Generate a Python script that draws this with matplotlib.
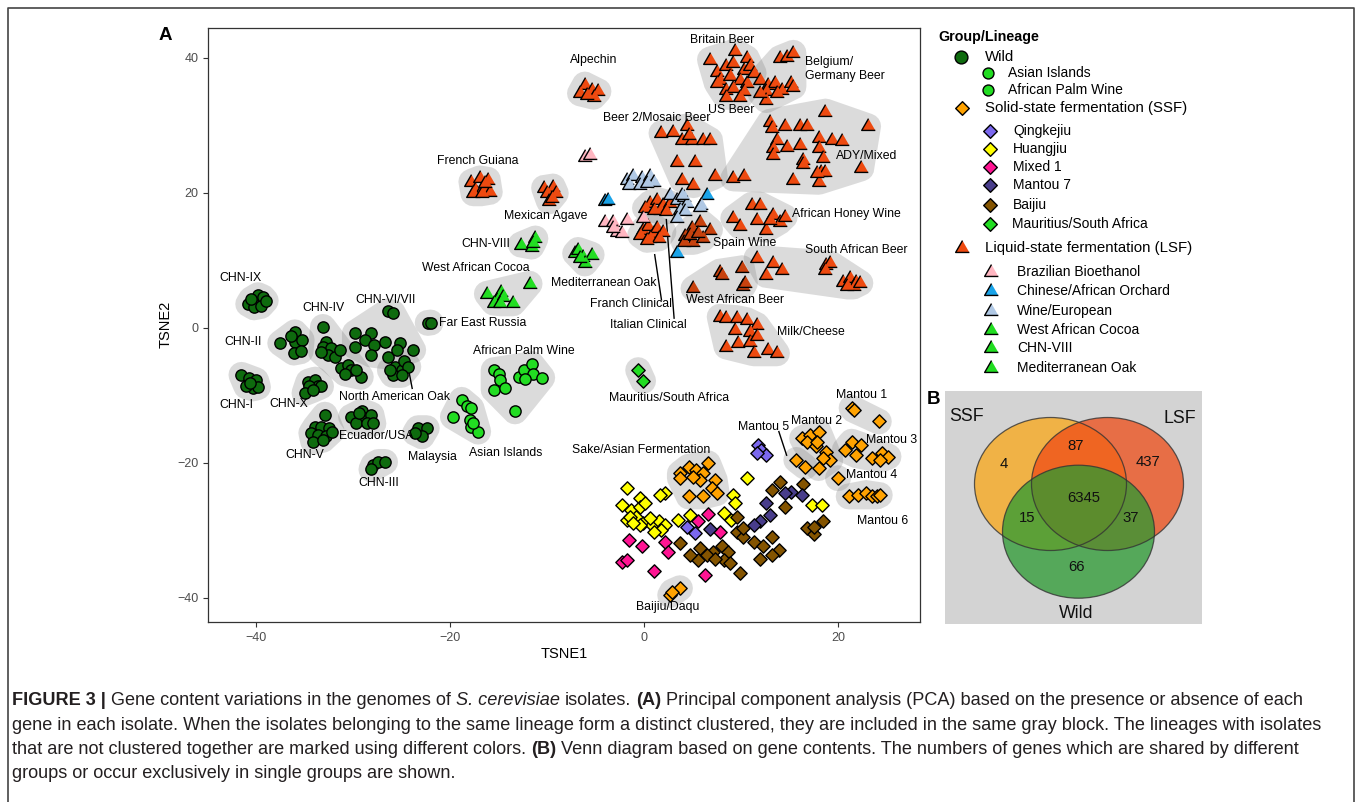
import numpy as np
import matplotlib
matplotlib.use('Agg')
import matplotlib.pyplot as plt
from matplotlib.patches import Polygon, Ellipse
from matplotlib import font_manager

# ----------------------------- DATA (TSNE coordinates) -----------------------------
# Wild
chn_ix_x = [-40.8, -39.8, -39.3, -40.2, -39.5, -40.5, -39.0]
chn_ix_y = [3.5, 4.8, 4.5, 3.0, 3.2, 4.2, 4.0]
chn_ii_x = [-37.5, -36.0, -36.0, -35.3, -36.1, -35.4, -36.4]
chn_ii_y = [-2.3, -0.7, -2.2, -1.8, -3.7, -3.5, -1.2]
chn_i_x = [-41.5, -40.7, -40.0, -40.3, -41.0, -39.8, -40.6]
chn_i_y = [-7.0, -7.5, -7.8, -9.0, -8.7, -8.8, -8.2]
chn_iv_x = [-33.1, -32.8, -33.1, -32.3, -32.6, -31.9, -31.3, -31.2, -30.5, -30.2, -29.2, -30.8, -29.7, -33.3]
chn_iv_y = [0.1, -2.1, -2.8, -3.0, -4.0, -4.3, -3.3, -6.0, -5.5, -6.3, -7.3, -6.8, -6.3, -3.6]
chn_vi_x = [-26.4, -25.9, -29.8, -28.1, -28.8, -27.8, -26.7, -29.8, -28.1, -26.4, -25.2, -25.5, -23.8]
chn_vi_y = [2.4, 2.2, -0.8, -0.8, -1.8, -2.6, -2.1, -2.8, -4.0, -4.3, -2.3, -3.3, -3.3]
na_oak_x = [-25.7, -25.0, -24.7, -24.3, -25.9, -25.0, -26.2]
na_oak_y = [-5.8, -6.3, -5.0, -5.8, -7.0, -7.0, -6.3]
far_east_x = [-22.3, -22.0]
far_east_y = [0.7, 0.75]
chn_x_x = [-34.6, -33.9, -33.6, -34.5, -35.0, -33.3, -34.1]
chn_x_y = [-8.0, -7.7, -8.7, -8.7, -9.7, -8.7, -9.2]
chn_v_x = [-32.9, -33.9, -33.3, -32.5, -34.3, -33.6, -32.8, -34.1, -33.1, -32.2]
chn_v_y = [-12.9, -14.7, -14.7, -14.9, -15.6, -15.9, -16.1, -16.9, -16.6, -15.4]
ecuador_x = [-30.2, -29.1, -28.8, -28.1, -29.7, -28.6, -29.4, -27.9]
ecuador_y = [-13.2, -12.4, -13.4, -12.9, -14.2, -14.2, -12.7, -14.2]
malaysia_x = [-23.3, -22.4, -22.9, -23.6]
malaysia_y = [-14.9, -14.9, -16.1, -15.6]
chn_iii_x = [-27.9, -27.4, -26.7, -28.1]
chn_iii_y = [-20.3, -19.9, -19.9, -21.0]
asian_isl_x = [-18.8, -18.3, -17.8, -19.7, -17.9, -17.8, -17.1, -17.6]
asian_isl_y = [-10.7, -11.6, -11.9, -13.2, -13.7, -14.7, -15.4, -14.2]
palm_wine_x = [-15.5, -14.9, -14.8, -15.5, -14.3, -13.3, -12.9, -12.4, -11.6, -11.4, -10.5, -12.3]
palm_wine_y = [-6.3, -6.8, -7.7, -9.2, -9.0, -12.4, -7.3, -6.3, -5.4, -6.8, -7.4, -7.6]
# green triangles / diamonds
wa_cocoa_x = [-16.2, -14.7, -15.2, -14.5, -13.5, -11.8, -15.5, -14.8]
wa_cocoa_y = [5.0, 5.3, 4.1, 4.6, 3.6, 6.5, 3.7, 3.6]
chn_viii_x = [-12.7, -11.6, -11.2, -11.4]
chn_viii_y = [12.3, 12.0, 13.2, 12.5]
med_oak_x = [-7.1, -6.8, -6.3, -5.4, -6.1, -6.6]
med_oak_y = [11.0, 11.5, 10.5, 10.8, 9.5, 10.3]
mauritius_x = [-0.6, -0.1]
mauritius_y = [-6.3, -7.9]
# LSF
fr_guiana_x = [-17.8, -16.9, -16.1, -17.4, -16.6, -15.9, -17.6, -16.7, -16.4]
fr_guiana_y = [21.6, 22.1, 21.9, 20.4, 20.7, 20.1, 19.9, 19.9, 21.4]
mex_agave_x = [-10.3, -9.4, -10.0, -9.1, -9.8, -9.5]
mex_agave_y = [20.7, 20.9, 19.9, 19.9, 18.7, 19.2]
alpechin_x = [-6.1, -5.4, -4.7, -6.6, -5.2, -5.9]
alpechin_y = [36.0, 35.2, 35.0, 34.7, 34.2, 34.5]
britain_x = [6.8, 9.4, 10.6, 7.5, 8.5, 9.2, 10.3, 10.9, 7.8, 8.9, 9.9, 10.6, 7.5, 8.5, 9.2, 10.3, 8.4, 9.9, 11.3]
britain_y = [39.7, 40.9, 39.9, 37.9, 38.7, 39.2, 38.2, 38.7, 36.7, 37.2, 36.7, 36.2, 36.2, 35.2, 35.5, 35.0, 34.2, 34.2, 37.7]
belgium_x = [14.0, 14.7, 15.4, 12.0, 12.8, 13.5, 12.6, 14.2, 15.1, 15.4, 12.6, 13.7, 12.0]
belgium_y = [39.9, 40.1, 40.7, 36.7, 36.0, 36.2, 35.0, 35.2, 36.2, 35.7, 33.7, 34.7, 34.7]
beer2_x = [1.8, 3.0, 4.4, 3.9, 4.9, 6.1, 6.8, 3.4, 5.3, 3.9, 5.1, 7.3, 4.6]
beer2_y = [28.8, 29.0, 29.8, 27.8, 27.8, 27.8, 27.8, 24.6, 24.6, 21.9, 21.1, 22.4, 28.5]
ady_x = [18.7, 13.0, 13.2, 14.5, 16.1, 16.8, 23.1, 13.7, 16.1, 18.0, 19.4, 20.4, 13.3, 14.7, 13.3,
         16.4, 18.0, 18.5, 18.2, 18.7, 18.0, 15.4, 22.4, 16.4, 17.8, 9.2, 10.3]
ady_y = [32.0, 30.5, 29.5, 29.8, 29.8, 29.8, 29.8, 27.8, 27.1, 28.1, 27.8, 27.6, 26.6, 26.8, 25.6,
         24.8, 26.6, 25.1, 23.1, 23.1, 21.6, 21.9, 23.6, 24.3, 22.9, 22.1, 22.4]
clin_up_x = [0.6, 1.3, 2.0, 2.7, 1.6, 2.3, 0.1, 1.0]
clin_up_y = [18.4, 18.9, 18.2, 18.4, 17.4, 17.2, 17.7, 17.4]
clin_lo_x = [-0.1, 0.4, 1.0, 1.3, 2.0, 0.6, 1.5, -0.4, 0.3]
clin_lo_y = [14.5, 15.0, 14.0, 14.7, 14.2, 13.2, 13.2, 13.7, 13.0]
spain_x = [5.8, 6.8, 4.9, 4.2, 5.1, 6.1, 4.1, 4.7, 5.6]
spain_y = [15.7, 14.5, 14.7, 13.5, 12.7, 13.2, 12.7, 13.7, 14.0]
honey_x = [11.1, 12.0, 9.2, 9.9, 11.6, 13.3, 14.0, 14.5, 12.6, 13.0]
honey_y = [18.2, 18.2, 16.2, 15.0, 16.0, 16.7, 15.7, 16.4, 14.5, 16.0]
sa_beer_x = [11.6, 13.3, 14.2, 12.6, 18.8, 19.2, 18.7, 20.5, 21.2, 21.9, 21.6, 20.9, 22.3]
sa_beer_y = [10.3, 9.5, 8.5, 7.8, 9.3, 9.5, 8.5, 6.8, 7.3, 6.8, 6.1, 6.1, 6.6]
wa_beer_x = [7.8, 8.0, 10.1, 10.2, 10.4, 5.1]
wa_beer_y = [8.3, 7.8, 8.8, 6.1, 6.6, 5.8]
milk_x = [7.8, 8.5, 9.6, 10.6, 11.6, 9.4, 10.9, 8.5, 9.7, 10.9, 11.3, 12.8, 13.7, 11.6]
milk_y = [1.6, 1.4, 1.4, 1.1, 0.4, -0.3, -0.6, -2.8, -2.3, -2.1, -3.8, -3.3, -3.8, -1.3]
brazil_x = [-6.1, -5.6, -4.0, -3.2, -1.8, -2.8, -2.3, -3.2, -0.1]
brazil_y = [25.3, 25.6, 15.7, 15.7, 16.0, 14.2, 14.0, 14.7, 16.2]
orchard_x = [-4.0, -3.7, 6.5, 3.4]
orchard_y = [18.7, 18.9, 19.7, 11.0]
wine_eu_x = [-1.8, -1.1, -0.2, 0.6, 1.0, -1.6, -0.4, 0.3, 2.7, 3.4, 4.1, 4.4, 5.9, 3.7, 4.2, 3.4, 3.9, 5.8]
wine_eu_y = [21.9, 22.4, 22.1, 22.4, 21.6, 21.1, 21.1, 21.4, 19.7, 18.9, 19.4, 18.4, 18.2, 17.4, 17.2, 16.2, 19.7, 17.9]
# SSF
mantou1_x = [21.4, 21.6, 24.2]
mantou1_y = [-11.9, -12.2, -13.9]
mantou2_x = [16.3, 17.1, 18.0, 16.8, 17.7, 18.8, 19.2, 18.4, 18.0, 17.8]
mantou2_y = [-16.4, -15.9, -15.4, -16.9, -17.6, -18.4, -19.6, -19.3, -20.8, -16.9]
mantou3_x = [20.7, 21.4, 22.4, 21.9, 23.5, 24.5, 25.2, 24.3]
mantou3_y = [-18.1, -16.9, -17.4, -18.9, -19.3, -18.6, -19.1, -19.6]
mantou4_x = [20.0]
mantou4_y = [-22.3]
mantou5_x = [15.7, 16.6]
mantou5_y = [-19.6, -20.6]
mantou6_x = [21.1, 22.1, 22.9, 23.5, 24.0, 24.3]
mantou6_y = [-25.0, -24.8, -24.5, -25.0, -25.0, -24.8]
sake_x = [3.7, 4.6, 5.4, 6.1, 6.6, 7.3, 3.7, 5.8, 7.0, 6.1, 4.6, 7.5, 5.1]
sake_y = [-21.6, -20.6, -21.1, -21.6, -20.1, -22.6, -22.3, -22.6, -23.8, -25.0, -25.0, -24.5, -22.1]
daqu_x = [2.7, 3.7, 2.9]
daqu_y = [-39.6, -38.6, -39.1]
qingkejiu_x = [11.8, 12.1, 12.6, 11.6, 4.4, 5.3]
qingkejiu_y = [-17.4, -18.1, -18.9, -18.6, -29.5, -30.4]
mantou7_x = [6.8, 12.6, 13.0, 12.0, 11.3, 15.1, 16.3, 14.5]
mantou7_y = [-29.9, -26.0, -27.7, -28.7, -29.2, -24.3, -24.8, -24.5]
huangjiu_x = [-1.8, -0.4, -2.3, -1.3, -0.4, -1.8, -0.8, -0.1, 0.8, 1.5, 2.2, 1.8, 1.0, -0.4, -1.4,
              0.1, 2.2, 1.6, 3.5, 4.7, 8.2, 9.0, 9.2, 9.4, 10.6, 17.3, 18.3, -1.1, 0.6]
huangjiu_y = [-23.8, -25.3, -26.3, -27.0, -26.5, -28.5, -28.0, -29.0, -29.2, -28.7, -29.2, -30.0, -30.2, -29.2, -28.0,
              -26.0, -24.5, -24.8, -28.5, -27.7, -27.5, -28.5, -24.8, -26.0, -22.2, -26.3, -26.3, -29.0, -28.2]
mixed1_x = [-1.6, -0.2, -2.3, -1.8, 1.0, 2.2, 2.5, 5.6, 6.6, 7.8, 6.3]
mixed1_y = [-31.4, -32.4, -34.7, -34.4, -36.1, -31.7, -33.3, -28.7, -27.6, -30.2, -36.6]
baijiu_x = [3.7, 5.8, 5.6, 7.1, 8.0, 8.7, 8.2, 8.9, 9.9, 9.6, 10.2, 11.3, 12.0, 13.2, 13.9, 13.2, 9.6, 10.2,
            14.0, 13.2, 14.5, 16.4, 16.8, 17.5, 18.4, 17.5, 4.7, 6.5, 7.3, 12.3]
baijiu_y = [-31.9, -32.7, -34.4, -33.2, -32.4, -33.2, -34.4, -34.9, -36.4, -30.2, -31.0, -31.7, -34.2, -31.0, -32.9, -33.7, -28.0, -29.7,
            -22.8, -24.0, -26.5, -23.1, -29.7, -30.5, -28.7, -29.5, -33.7, -33.7, -34.2, -32.4]

# Venn counts
venn_counts = ['4', '87', '437', '6345', '15', '37', '66']
venn_sets = ['SSF', 'LSF', 'Wild']

# Legend labels
legend_title = 'Group/Lineage'
legend_labels = ['Wild', 'Asian Islands', 'African Palm Wine', 'Solid-state fermentation (SSF)',
                 'Qingkejiu', 'Huangjiu', 'Mixed 1', 'Mantou 7', 'Baijiu', 'Mauritius/South Africa',
                 'Liquid-state fermentation (LSF)', 'Brazilian Bioethanol', 'Chinese/African Orchard',
                 'Wine/European', 'West African Cocoa', 'CHN-VIII', 'Mediterranean Oak']

caption_lines = [
    [("FIGURE 3 |", 'b', True), ("Gene content variations in the genomes of", 'n', True), ("S. cerevisiae", 'i', True),
     ("isolates.", 'n', True), ("(A)", 'b', True),
     ("Principal component analysis (PCA) based on the presence or absence of each", 'n', False)],
    [("gene in each isolate. When the isolates belonging to the same lineage form a distinct clustered, they are included in the same gray block. The lineages with isolates", 'n', False)],
    [("that are not clustered together are marked using different colors.", 'n', True), ("(B)", 'b', True),
     ("Venn diagram based on gene contents. The numbers of genes which are shared by different", 'n', False)],
    [("groups or occur exclusively in single groups are shown.", 'n', False)],
]

# ----------------------------- STYLE -----------------------------
W, H, DPI = 1357, 802, 100
plt.rcParams['font.family'] = ['Liberation Sans', 'DejaVu Sans']

C_WILD = '#0E6B0E'
C_LGREEN = '#22DD22'
C_SSF = '#FFA200'
C_LSF = '#EE4A10'
C_LSF_D = '#C8420E'
C_QING = '#7B68EE'
C_HUANG = '#FFFF00'
C_MIX = '#FF1493'
C_MAN7 = '#483D8B'
C_BAI = '#845400'
C_BRAZ = '#FFB6C1'
C_ORCH = '#1AA3E8'
C_WEU = '#B0C8E4'

TRI = [(0, 1), (-0.866, -0.5), (0.866, -0.5)]
MK = {'o': ('o', 66), '^': (TRI, 128), 'D': ('D', 46)}

fig = plt.figure(figsize=(W / DPI, H / DPI), dpi=DPI)
fig.patch.set_facecolor('white')

ax = fig.add_axes([208 / W, 1 - 622 / H, (920 - 208) / W, (622 - 27.5) / H])
ax.set_xlim(-44.95, 28.45)
ax.set_ylim(-43.6, 44.45)
for s in ax.spines.values():
    s.set_color('#333333')
    s.set_linewidth(0.9)
ax.set_xticks([-40, -20, 0, 20])
ax.set_yticks([-40, -20, 0, 20, 40])
ax.tick_params(direction='out', length=3.5, width=0.8, color='#333333', labelcolor='#4D4D4D', labelsize=9)
ax.set_xlabel('TSNE1', fontsize=10.5, labelpad=2)
ax.set_ylabel('TSNE2', fontsize=10.5, labelpad=3)


def convex_hull(P):
    P = sorted(map(tuple, P))

    def cross(o, a, b):
        return (a[0] - o[0]) * (b[1] - o[1]) - (a[1] - o[1]) * (b[0] - o[0])
    lower, upper = [], []
    for p in P:
        while len(lower) >= 2 and cross(lower[-2], lower[-1], p) <= 0:
            lower.pop()
        lower.append(p)
    for p in reversed(P):
        while len(upper) >= 2 and cross(upper[-2], upper[-1], p) <= 0:
            upper.pop()
        upper.append(p)
    return np.array(lower[:-1] + upper[:-1])


def hull_poly(xs, ys, r=13, n=20):
    pts = ax.transData.transform(np.column_stack([xs, ys]))
    ang = np.linspace(0, 2 * np.pi, n, endpoint=False)
    circ = np.column_stack([np.cos(ang), np.sin(ang)]) * r
    allp = (pts[:, None, :] + circ[None, :, :]).reshape(-1, 2)
    h = convex_hull(allp)
    return ax.transData.inverted().transform(h)


# (x, y, color, marker, hull)
clusters = [
    (chn_ix_x, chn_ix_y, C_WILD, 'o', True), (chn_ii_x, chn_ii_y, C_WILD, 'o', True),
    (chn_i_x, chn_i_y, C_WILD, 'o', True), (chn_iv_x, chn_iv_y, C_WILD, 'o', True),
    (chn_vi_x, chn_vi_y, C_WILD, 'o', True), (na_oak_x, na_oak_y, C_WILD, 'o', True),
    (far_east_x, far_east_y, C_WILD, 'o', True), (chn_x_x, chn_x_y, C_WILD, 'o', True),
    (chn_v_x, chn_v_y, C_WILD, 'o', True), (ecuador_x, ecuador_y, C_WILD, 'o', True),
    (malaysia_x, malaysia_y, C_WILD, 'o', True), (chn_iii_x, chn_iii_y, C_WILD, 'o', True),
    (asian_isl_x, asian_isl_y, C_LGREEN, 'o', True), (palm_wine_x, palm_wine_y, C_LGREEN, 'o', True),
    (wa_cocoa_x, wa_cocoa_y, C_LGREEN, '^', True), (chn_viii_x, chn_viii_y, C_LGREEN, '^', True),
    (med_oak_x, med_oak_y, C_LGREEN, '^', True), (mauritius_x, mauritius_y, C_LGREEN, 'D', True),
    (fr_guiana_x, fr_guiana_y, C_LSF, '^', True), (mex_agave_x, mex_agave_y, C_LSF, '^', True),
    (alpechin_x, alpechin_y, C_LSF, '^', True), (britain_x, britain_y, C_LSF, '^', True),
    (belgium_x, belgium_y, C_LSF, '^', True), (beer2_x, beer2_y, C_LSF, '^', True),
    (ady_x, ady_y, C_LSF, '^', True), (clin_up_x, clin_up_y, C_LSF, '^', True),
    (clin_lo_x, clin_lo_y, C_LSF, '^', True), (spain_x, spain_y, C_LSF_D, '^', True),
    (honey_x, honey_y, C_LSF, '^', True), (sa_beer_x, sa_beer_y, C_LSF, '^', True),
    (wa_beer_x, wa_beer_y, C_LSF_D, '^', True), (milk_x, milk_y, C_LSF, '^', True),
    (brazil_x, brazil_y, C_BRAZ, '^', False), (orchard_x, orchard_y, C_ORCH, '^', False),
    (wine_eu_x, wine_eu_y, C_WEU, '^', False),
    (mantou1_x, mantou1_y, C_SSF, 'D', True), (mantou2_x, mantou2_y, C_SSF, 'D', True),
    (mantou3_x, mantou3_y, C_SSF, 'D', True), (mantou4_x, mantou4_y, C_SSF, 'D', True),
    (mantou5_x, mantou5_y, C_SSF, 'D', True), (mantou6_x, mantou6_y, C_SSF, 'D', True),
    (sake_x, sake_y, C_SSF, 'D', True), (daqu_x, daqu_y, C_SSF, 'D', True),
    (huangjiu_x, huangjiu_y, C_HUANG, 'D', False), (mixed1_x, mixed1_y, C_MIX, 'D', False),
    (baijiu_x, baijiu_y, C_BAI, 'D', False), (qingkejiu_x, qingkejiu_y, C_QING, 'D', False),
    (mantou7_x, mantou7_y, C_MAN7, 'D', False),
]

for xs, ys, col, mk, hull in clusters:
    if hull:
        ax.add_patch(Polygon(hull_poly(xs, ys), closed=True, facecolor='grey', alpha=0.28,
                             edgecolor='none', zorder=1))

for xs, ys, col, mk, hull in clusters:
    m, s = MK[mk]
    ax.scatter(xs, ys, marker=m, s=s, c=col, edgecolors='black', linewidths=1.0, zorder=3)

# leader lines
leaders = [((-23.9, -9.0), (-24.3, -6.0)), ((1.8, 4.1), (1.1, 10.8)),
           ((3.1, 1.4), (2.3, 16.0)), ((13.9, -15.4), (14.7, -18.9))]
for (x0, y0), (x1, y1) in leaders:
    ax.plot([x0, x1], [y0, y1], color='black', lw=1.0, zorder=2.5)

labels = [
    ('CHN-IX', -41.6, 7.3, 'center'), ('CHN-II', -41.3, -2.1, 'center'), ('CHN-I', -42.0, -11.5, 'center'),
    ('CHN-IV', -33.1, 2.9, 'center'), ('CHN-VI/VII', -26.6, 4.1, 'center'),
    ('Far East Russia', -21.1, 0.7, 'left'), ('North American Oak', -25.7, -10.3, 'center'),
    ('CHN-X', -36.6, -11.3, 'center'), ('CHN-V', -35.0, -18.9, 'center'),
    ('Ecuador/USA', -27.6, -16.1, 'center'), ('Malaysia', -21.8, -19.1, 'center'),
    ('CHN-III', -27.3, -23.0, 'center'), ('Asian Islands', -14.3, -18.6, 'center'),
    ('African Palm Wine', -12.4, -3.4, 'center'), ('West African Cocoa', -17.3, 8.8, 'center'),
    ('CHN-VIII', -13.8, 12.4, 'right'), ('Mediterranean Oak', -4.2, 6.6, 'center'),
    ('French Guiana', -17.1, 24.7, 'center'), ('Mexican Agave', -10.1, 16.5, 'center'),
    ('Mauritius/South Africa', 2.6, -10.4, 'center'), ('Alpechin', -5.2, 39.6, 'center'),
    ('Britain Beer', 8.1, 42.6, 'center'), ('US Beer', 9.0, 32.3, 'center'),
    ('Belgium/\nGermany Beer', 16.6, 38.3, 'left'), ('Beer 2/Mosaic Beer', 1.3, 31.0, 'center'),
    ('ADY/Mixed', 22.9, 25.4, 'center'), ('African Honey Wine', 20.9, 16.9, 'center'),
    ('Spain Wine', 10.4, 12.5, 'center'), ('South African Beer', 21.9, 11.5, 'center'),
    ('West African Beer', 9.4, 4.1, 'center'), ('Milk/Cheese', 17.2, -0.7, 'center'),
    ('Franch Clinical', -1.3, 3.5, 'center'), ('Italian Clinical', 0.4, 0.4, 'center'),
    ('Mantou 1', 22.4, -10.0, 'center'), ('Mantou 2', 17.8, -13.9, 'center'),
    ('Mantou 5', 12.3, -14.7, 'center'), ('Mantou 3', 25.5, -16.6, 'center'),
    ('Mantou 4', 23.5, -21.8, 'center'), ('Mantou 6', 24.6, -28.6, 'center'),
    ('Sake/Asian Fermentation', -0.3, -18.1, 'center'), ('Baijiu/Daqu', 2.4, -41.4, 'center'),
]
for t, x, y, ha in labels:
    ax.text(x, y, t, ha=ha, va='center', fontsize=8.8, color='black', zorder=4, linespacing=1.2)

# ----------------------------- overlay (pixel coords) -----------------------------
ov = fig.add_axes([0, 0, 1, 1], facecolor='none')
ov.set_xlim(0, W)
ov.set_ylim(H, 0)
ov.axis('off')

# border
ov.plot([8, 8, 1354, 1354], [H + 5, 8, 8, H + 5], color='#444444', lw=1.2, clip_on=False)

ov.text(165, 35, 'A', fontsize=13.5, fontweight='bold', ha='center', va='center')
ov.text(933, 400, 'B', fontsize=13.5, fontweight='bold', ha='center', va='center')

# legend
ov.text(938, 37, legend_title, fontsize=10.3, fontweight='bold', ha='left', va='center')
leg_spec = [  # (marker x, y, text x, color, marker, size, fontsize)
    (960.7, 57.3, 985, C_WILD, 'o', 85, 10.8),
    (988.3, 73.3, 1008.3, C_LGREEN, 'o', 62, 10),
    (988.3, 89.7, 1008.3, C_LGREEN, 'o', 62, 10),
    (961.7, 108.3, 985, C_SSF, 'D', 48, 10.8),
    (990, 131, 1013.3, C_QING, 'D', 48, 10),
    (990, 149, 1013.3, C_HUANG, 'D', 48, 10),
    (990, 166.7, 1013.3, C_MIX, 'D', 48, 10),
    (990, 185, 1013.3, C_MAN7, 'D', 48, 10),
    (990, 205, 1013.3, C_BAI, 'D', 48, 10),
    (990, 224, 1011.7, C_LGREEN, 'D', 48, 10),
    (961.7, 248.3, 985, C_LSF, '^', 130, 10.8),
    (990.7, 272.3, 1016.7, C_BRAZ, '^', 130, 10),
    (990.7, 290.7, 1016.7, C_ORCH, '^', 130, 10),
    (990.7, 310.7, 1016.7, C_WEU, '^', 130, 10),
    (990.7, 330, 1016.7, C_LGREEN, '^', 130, 10),
    (990.7, 348.3, 1017.7, C_LGREEN, '^', 130, 10),
    (990.7, 367.7, 1017, C_LGREEN, '^', 130, 10),
]
for lab, (mx, my, tx, col, mk, sz, fs) in zip(legend_labels, leg_spec):
    m = TRI if mk == '^' else mk
    ov.scatter([mx], [my], marker=m, s=sz, c=col, edgecolors='black', linewidths=1.0)
    ov.text(tx, my, lab, fontsize=fs, ha='left', va='center')

# ----------------------------- Venn -----------------------------
vax = fig.add_axes([945 / W, 1 - 624 / H, 257 / W, 233 / H])
vax.set_xlim(945, 1202)
vax.set_ylim(624, 391)
vax.set_facecolor('#D3D3D3')
for s in vax.spines.values():
    s.set_visible(False)
vax.set_xticks([])
vax.set_yticks([])
ell_spec = [((1050.5, 484), '#FAA717'), ((1107.5, 484), '#EF4C17'), ((1078.5, 531.7), '#2B9A32')]
for (c, col) in ell_spec:
    vax.add_patch(Ellipse(c, 152, 133, facecolor=col, alpha=0.75, edgecolor='none'))
for (c, col) in ell_spec:
    vax.add_patch(Ellipse(c, 152, 133, facecolor='none', edgecolor='#333333', lw=0.9, alpha=0.8))
venn_pos = [(1003.3, 464), (1075.7, 446), (1148.3, 462.3), (1083.3, 498.3),
            (1026.7, 518.3), (1131, 518.3), (1076.7, 566.7)]
for t, (x, y) in zip(venn_counts, venn_pos):
    vax.text(x, y, t, fontsize=10.7, ha='center', va='center', color='#111111')
set_pos = [(966.7, 416.7), (1180, 418.3), (1075.7, 614)]
for t, (x, y) in zip(venn_sets, set_pos):
    vax.text(x, y, t, fontsize=12.8, ha='center', va='center', color='#111111')

# ----------------------------- caption -----------------------------
names = {f.name for f in font_manager.fontManager.ttflist}
cap_font = 'Liberation Sans Narrow' if 'Liberation Sans Narrow' in names else 'Liberation Sans'
renderer = fig.canvas.get_renderer()


def style_kw(st, size):
    kw = dict(fontsize=size, family=[cap_font, 'DejaVu Sans'])
    if st == 'b':
        kw['fontweight'] = 'bold'
    if st == 'i':
        kw['fontstyle'] = 'italic'
    return kw


def twidth(s, kw):
    t = ov.text(0, 0, s, **kw)
    w = t.get_window_extent(renderer).width
    t.remove()
    return w


def seg_w(s, kw):
    return twidth('|' + s + '|', kw) - twidth('||', kw)


def line_width(line, size):
    total = 0
    for txt, st, sp in line:
        kw = style_kw(st, size)
        total += seg_w(txt, kw) + (seg_w(' ', kw) if sp else 0)
    return total


base = 12.0
target = 1328 - 12
fs_cap = base * target / line_width(caption_lines[1], base)
baselines = [705, 729.5, 754, 778.5]
for line, yb in zip(caption_lines, baselines):
    x = 12
    for txt, st, sp in line:
        kw = style_kw(st, fs_cap)
        ov.text(x, yb, txt, ha='left', va='baseline', color='#231F20', **kw)
        x += seg_w(txt, kw) + (seg_w(' ', kw) if sp else 0)

fig.savefig('out.png', dpi=DPI, facecolor='white')
